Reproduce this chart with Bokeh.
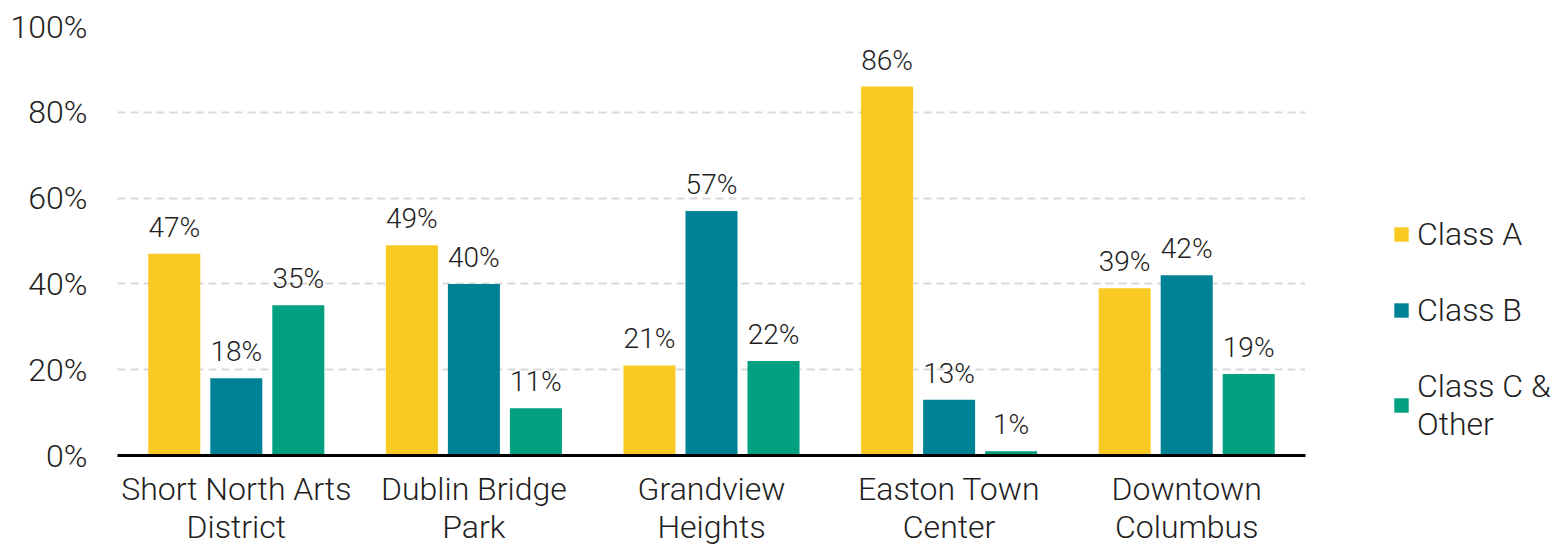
from bokeh.plotting import figure
from bokeh.models import (ColumnDataSource, FactorRange, Range1d, FixedTicker,
                          PrintfTickFormatter, Legend, LegendItem, LabelSet)
from bokeh.core.properties import value
from bokeh.transform import dodge
from bokeh.embed import file_html
from bokeh.resources import INLINE

categories = ["Short North Arts\nDistrict", "Dublin Bridge\nPark", "Grandview\nHeights",
              "Easton Town\nCenter", "Downtown\nColumbus"]
series_names = ["Class A", "Class B", "Class C &\nOther"]
class_a = [47, 49, 21, 86, 39]
class_b = [18, 40, 57, 13, 42]
class_c = [35, 11, 22, 1, 19]
y_ticks = [0, 20, 40, 60, 80, 100]

colors = ["#F9CA24", "#008296", "#00A081"]
FONT = "Roboto Light"
FS = "32px"
FS_LAB = "28px"
TXT = "#1e1e1e"

src = ColumnDataSource(dict(
    cat=categories, a=class_a, b=class_b, c=class_c,
    la=[f"{v}%" for v in class_a], lb=[f"{v}%" for v in class_b], lc=[f"{v}%" for v in class_c],
))

p = figure(x_range=FactorRange(*categories, range_padding=0), y_range=Range1d(0, 100),
           frame_width=1188, height=548, output_backend="svg", toolbar_location=None,
           min_border_left=117, min_border_top=26, min_border_right=0, min_border_bottom=0)
p.outline_line_color = None
p.background_fill_color = "white"
p.border_fill_color = "white"

offsets = [-0.261, 0.0, 0.261]
keys = ["a", "b", "c"]
lkeys = ["la", "lb", "lc"]
renderers = []
for off, k, lk, col in zip(offsets, keys, lkeys, colors):
    r = p.vbar(x=dodge("cat", off, range=p.x_range), top=k, width=0.219, source=src,
               fill_color=col, line_color=None)
    renderers.append(r)
    labels = LabelSet(x=dodge("cat", off, range=p.x_range), y=k, text=lk, source=src,
                      text_align="center", text_baseline="bottom", y_offset=10,
                      text_font=value(FONT), text_font_size=value(FS_LAB), text_color=TXT)
    p.add_layout(labels)

# axes
p.yaxis.ticker = FixedTicker(ticks=y_ticks)
p.yaxis.formatter = PrintfTickFormatter(format="%d%%")
p.yaxis.axis_line_color = None
p.yaxis.major_tick_line_color = None
p.yaxis.minor_tick_line_color = None
p.yaxis.major_tick_out = 0
p.yaxis.major_label_text_font = FONT
p.yaxis.major_label_text_font_size = FS
p.yaxis.major_label_text_color = TXT
p.yaxis.major_label_standoff = 30

p.xaxis.axis_line_color = "black"
p.xaxis.axis_line_width = 3
p.xaxis.major_tick_line_color = None
p.xaxis.minor_tick_line_color = None
p.xaxis.major_tick_out = 0
p.xaxis.major_label_text_font = FONT
p.xaxis.major_label_text_font_size = FS
p.xaxis.major_label_text_color = TXT
p.xaxis.major_label_standoff = 14
p.xaxis.major_label_text_line_height = 1.0

p.xgrid.grid_line_color = None
p.ygrid.ticker = FixedTicker(ticks=y_ticks)
p.ygrid.grid_line_color = "#d9d9d9"
p.ygrid.grid_line_width = 2
p.ygrid.grid_line_dash = "8 5"

legend = Legend(items=[LegendItem(label=n, renderers=[r]) for n, r in zip(series_names, renderers)],
                location=(87, 12), border_line_color=None, background_fill_alpha=0,
                glyph_width=18, glyph_height=18, label_standoff=7, spacing=38,
                padding=0, margin=0,
                label_text_font=FONT, label_text_font_size=FS, label_text_color=TXT)
p.add_layout(legend, "right")

open("out.html", "w").write(file_html(p, INLINE))
